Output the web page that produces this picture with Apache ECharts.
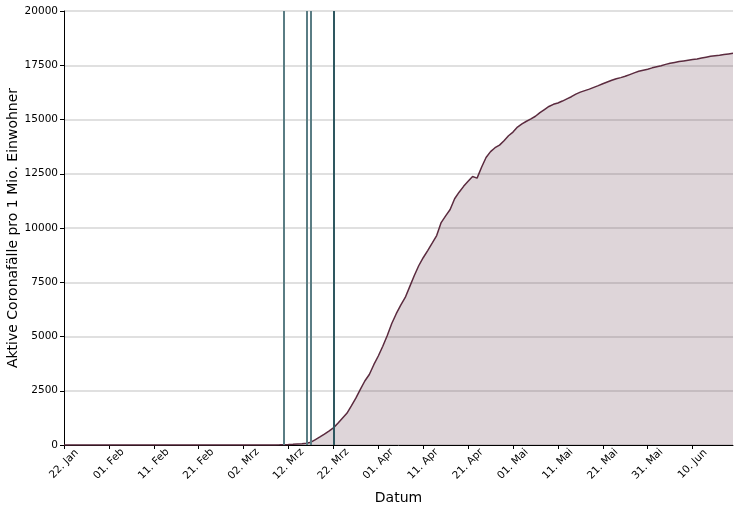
<!DOCTYPE html>
<html>
<head>
<meta charset="utf-8">
<script src="https://cdn.jsdelivr.net/npm/echarts@6/dist/echarts.min.js"></script>
<style>html,body{margin:0;padding:0;background:#fff}#c{width:740px;height:511px}</style>
</head>
<body>
<div id="c"></div>
<script>
// Data
const startDate = [2020, 0, 22];   // 22 Jan 2020
const monthNames = ['Jan','Feb','Mrz','Apr','Mai','Jun','Jul','Aug','Sep','Okt','Nov','Dez'];
const activeCases = [
  0,0,0,0,0,0,0,0,0,0,
  0,0,0,0,0,0,0,0,0,0,
  0,0,0,0,0,0,0,0,0,0,
  0,0,0,0,0,0,0,0,0,0,
  0,0,0,0,1,2,3,5,8,12,
  20,30,45,60,80,130,250,370,500,640,
  790,1000,1230,1460,1800,2160,2560,2950,3250,3700,
  4100,4550,5050,5600,6050,6450,6800,7300,7800,8260,
  8630,8960,9300,9650,10250,10560,10850,11350,11650,11920,
  12150,12370,12300,12800,13250,13520,13700,13820,14020,14250,
  14420,14650,14800,14920,15030,15150,15320,15460,15600,15700,
  15760,15850,15950,16050,16170,16260,16330,16400,16480,16560,
  16650,16730,16810,16880,16930,16990,17070,17150,17220,17270,
  17320,17380,17430,17480,17540,17590,17630,17670,17700,17730,
  17760,17790,17830,17870,17910,17940,17960,17990,18020,18050
];
const markerDates = ['11. Mrz', '16. Mrz', '17. Mrz', '22. Mrz'];
const markerColors = ['#5a7d84', '#5a7d84', '#5a7d84', '#2e5760'];
const yTicks = { min: 0, max: 20000, interval: 2500 };

const categories = [];
for (let i = 0; i < activeCases.length; i++) {
  const d = new Date(startDate[0], startDate[1], startDate[2] + i);
  const dd = String(d.getDate()).padStart(2, '0');
  categories.push(dd + '. ' + monthNames[d.getMonth()]);
}

const font = 'DejaVu Sans';
const chart = echarts.init(document.getElementById('c'), null, { renderer: 'canvas' });
chart.setOption({
  animation: false,
  backgroundColor: '#ffffff',
  grid: { left: 64, right: 7, top: 11, bottom: 66, containLabel: false, outerBoundsMode: 'none' },
  xAxis: {
    type: 'category',
    data: categories,
    boundaryGap: false,
    name: 'Datum',
    nameLocation: 'middle',
    nameGap: 46,
    nameMoveOverlap: false,
    nameTextStyle: { fontFamily: font, fontSize: 14, color: '#000' },
    axisLine: { show: true, lineStyle: { color: '#000', width: 1 } },
    axisTick: { show: true, interval: 9, length: 4, lineStyle: { color: '#000' } },
    axisLabel: { interval: 9, rotate: 45, align: 'center', verticalAlign: 'middle', fontFamily: font, fontSize: 10.5, color: '#000', margin: 19 },
    splitLine: { show: false }
  },
  yAxis: {
    type: 'value',
    min: yTicks.min, max: yTicks.max, interval: yTicks.interval,
    name: 'Aktive Coronafälle pro 1 Mio. Einwohner',
    nameLocation: 'middle',
    nameGap: 44,
    nameMoveOverlap: false,
    nameTextStyle: { fontFamily: font, fontSize: 14, color: '#000' },
    axisLine: { show: true, lineStyle: { color: '#000', width: 1 } },
    axisTick: { show: true, length: 4, lineStyle: { color: '#000' } },
    axisLabel: { fontFamily: font, fontSize: 10.5, color: '#000', margin: 6, formatter: v => String(v) },
    splitLine: { show: true, lineStyle: { color: '#d6d6d6', width: 1.5 } }
  },
  series: [{
    type: 'line',
    data: activeCases,
    showSymbol: false,
    symbol: 'none',
    lineStyle: { color: '#5b2b3f', width: 1.5 },
    areaStyle: { color: '#5b2b3f', opacity: 0.2 },
    z: 3,
    markLine: {
      silent: true,
      symbol: ['none', 'none'],
      label: { show: false },
      animation: false,
      data: markerDates.map((d, i) => ({
        xAxis: d,
        lineStyle: { color: markerColors[i], width: 2, type: 'solid' }
      }))
    }
  }]
});
</script>
</body>
</html>
